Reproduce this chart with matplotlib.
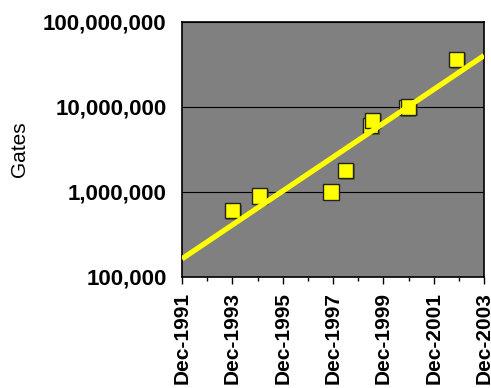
import matplotlib
matplotlib.use("Agg")
import matplotlib.pyplot as plt
import matplotlib.dates as mdates
import matplotlib.patheffects as pe
from matplotlib.ticker import FixedLocator, FuncFormatter, NullLocator
import numpy as np
from datetime import datetime

# Chip complexity (gate count) over time
dates = ["1993-12", "1995-01", "1997-11", "1998-06", "1999-06",
         "1999-07", "2000-11", "2000-12", "2002-11"]
gates = [600000, 900000, 1000000, 1800000, 6000000,
         7000000, 9800000, 10000000, 36500000]

x_start = "1991-12"
x_end = "2003-12"
y_ticks = [100000, 1000000, 10000000, 100000000]
x_label_years = [1991, 1993, 1995, 1997, 1999, 2001, 2003]
y_label = "Gates"

plt.rcParams["font.family"] = ["Liberation Sans", "DejaVu Sans"]


def to_dt(s):
    return datetime.strptime(s, "%Y-%m")


xd = mdates.date2num([to_dt(d) for d in dates])
x0 = mdates.date2num(to_dt(x_start))
x1 = mdates.date2num(to_dt(x_end))

# Exponential trend line (least squares in log space)
slope, intercept = np.polyfit(xd, np.log10(gates), 1)
tx = np.array([x0, x1])
ty = 10 ** (slope * tx + intercept)

fig = plt.figure(figsize=(4.91, 3.88), dpi=100)
ax = fig.add_axes([182 / 491, 1 - 277 / 388, 302 / 491, 255 / 388])
ax.set_facecolor("#808080")

ax.plot(xd, gates, linestyle="none", marker="s", markersize=11,
        markerfacecolor="#FFFF00", markeredgecolor="#222222",
        markeredgewidth=1.0, zorder=3,
        path_effects=[pe.SimplePatchShadow(offset=(1.2, -1.2), alpha=0.6),
                      pe.Normal()])
ax.plot(tx, ty, color="#FFFF00", linewidth=3.8, solid_capstyle="butt",
        zorder=4)

ax.set_yscale("log")
ax.set_ylim(y_ticks[0], y_ticks[-1])
ax.set_xlim(x0, x1)

ax.yaxis.set_major_locator(FixedLocator(y_ticks))
ax.yaxis.set_minor_locator(NullLocator())
ax.yaxis.set_major_formatter(FuncFormatter(lambda v, p: f"{int(round(v)):,}"))
ax.grid(axis="y", which="major", color="black", linewidth=0.8, zorder=1)
ax.set_axisbelow(True)

major = [mdates.date2num(datetime(y, 12, 1)) for y in x_label_years]
minor = [mdates.date2num(datetime(y + 1, 12, 1)) for y in x_label_years[:-1]]
ax.xaxis.set_major_locator(FixedLocator(major))
ax.xaxis.set_minor_locator(FixedLocator(minor))
ax.set_xticklabels([f"Dec-{y}" for y in x_label_years])

ax.tick_params(axis="y", which="both", length=0, pad=11, labelsize=16)
for lbl in ax.get_yticklabels():
    lbl.set_fontweight("bold")
ax.tick_params(axis="x", which="major", length=5, width=1, pad=6,
               labelsize=15, labelrotation=90, color="black")
ax.tick_params(axis="x", which="minor", length=3, width=1, color="black")
for lbl in ax.get_xticklabels():
    lbl.set_fontweight("bold")

for s in ax.spines.values():
    s.set_color("black")
    s.set_linewidth(1.2)

ax.set_ylabel(y_label, fontsize=15)
ax.yaxis.set_label_coords(-0.505, 0.5)

fig.savefig("out.png", dpi=100, facecolor="white")
